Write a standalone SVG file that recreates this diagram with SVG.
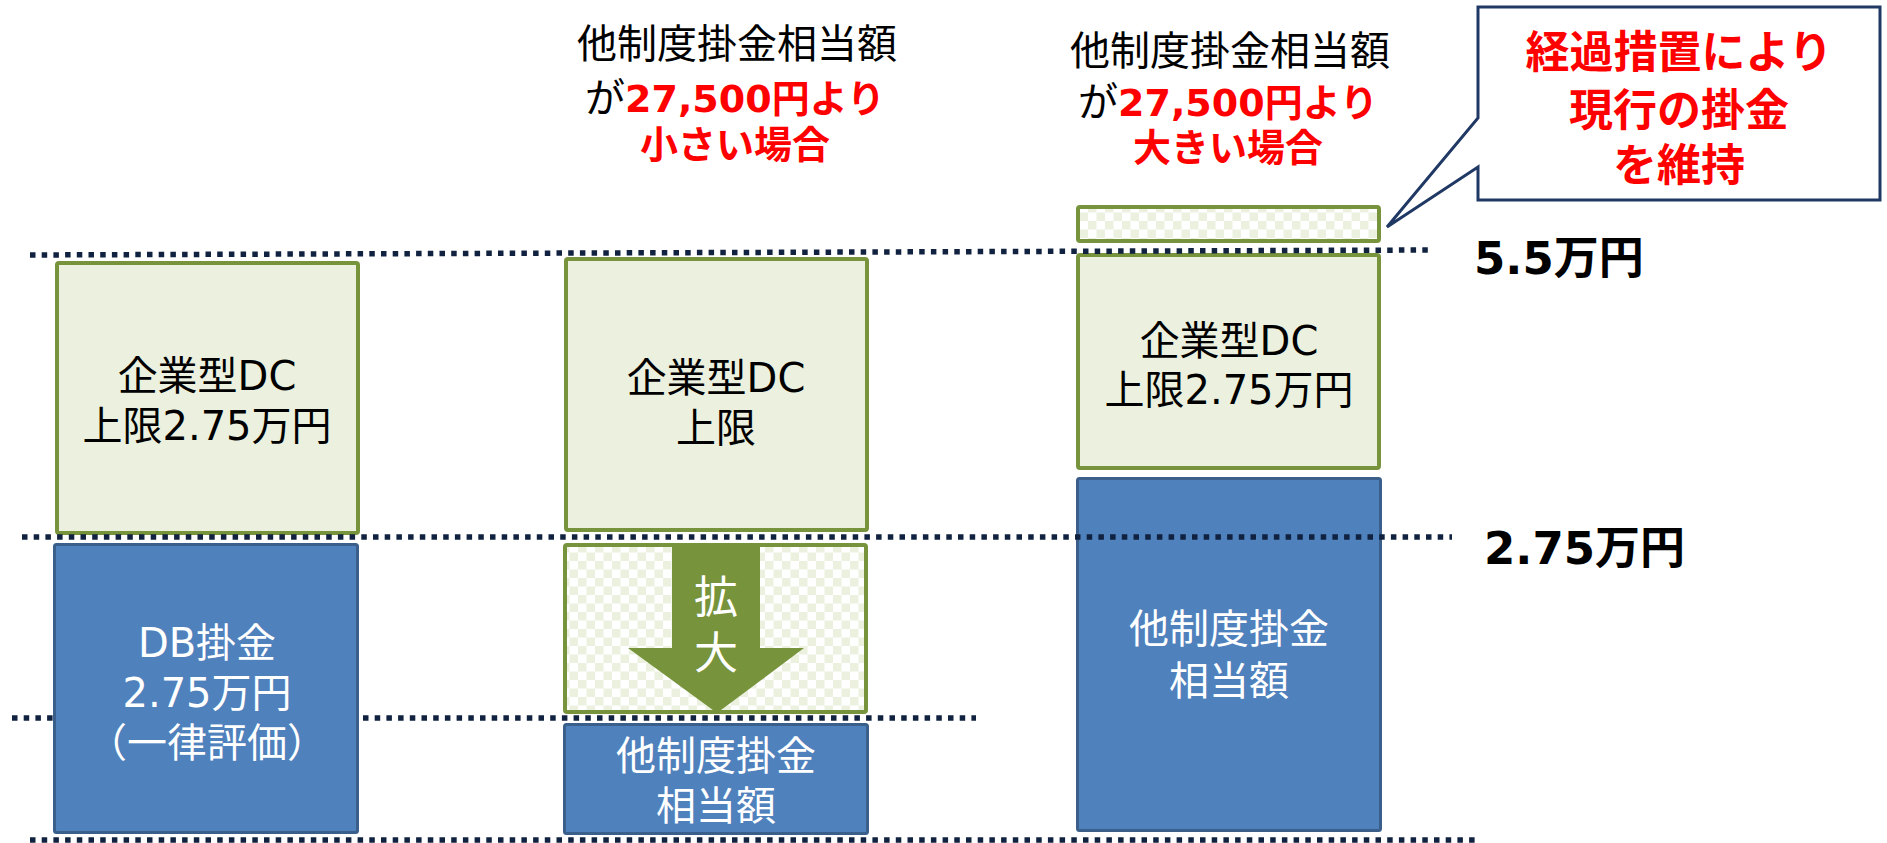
<svg xmlns="http://www.w3.org/2000/svg" width="1887" height="843" viewBox="0 0 1887 843">
<defs>
<pattern id="chk" width="17" height="17" patternUnits="userSpaceOnUse">
<rect width="17" height="17" fill="#ffffff"/>
<rect width="8.5" height="8.5" fill="#EBF1DE"/>
<rect x="8.5" y="8.5" width="8.5" height="8.5" fill="#EBF1DE"/>
</pattern>
<style>
.dc{fill:#EBF1DE;stroke:#77933C;stroke-width:4}
.ck{fill:url(#chk);stroke:#77933C;stroke-width:4}
.db{fill:#4F81BD;stroke:#3A5F8B;stroke-width:3}
.dot{stroke:#10223F;stroke-width:5.5;stroke-dasharray:5.5 6.2;fill:none}
text{font-family:"DejaVu Sans","Noto Sans CJK JP",sans-serif;text-anchor:middle}
.bk{font-size:40px;fill:#000}
.wt{font-size:40px;fill:#fff}
.rd{font-weight:bold;fill:#FF0000}
.lbl{font-size:45px;font-weight:bold;fill:#000;text-anchor:start}
</style>
</defs>
<rect width="1887" height="843" fill="#ffffff"/>

<g id="connectors">
<line class="dot" x1="12" y1="718" x2="976" y2="718"/>
</g>

<g id="left-db">
<rect class="db" x="54.5" y="544.5" width="303" height="288" rx="2"/>
<text class="wt" x="207" y="657">DB掛金</text>
<text class="wt" x="207" y="707">2.75万円</text>
<text class="wt" x="207" y="757">（一律評価）</text>
</g>
<g id="left-dc">
<rect class="dc" x="57" y="263" width="301" height="270" rx="2"/>
<text class="bk" x="207" y="390">企業型DC</text>
<text class="bk" x="207" y="440">上限2.75万円</text>
</g>

<g id="mid-dc">
<rect class="dc" x="566" y="259" width="301" height="271" rx="2"/>
<text class="bk" x="716" y="392">企業型DC</text>
<text class="bk" x="716" y="442">上限</text>
</g>
<g id="mid-expand">
<rect class="ck" x="565" y="545" width="301" height="167" rx="2"/>
<polygon points="672,547 760,547 760,648 804,648 717,713 628,648 672,648" fill="#77933C"/>
<text x="716" y="613" style="font-size:44px;fill:#fff">拡</text>
<text x="716" y="669" style="font-size:44px;fill:#fff">大</text>
</g>
<g id="mid-other">
<rect class="db" x="564.5" y="724.5" width="303" height="109" rx="2"/>
<text class="wt" x="716" y="770">他制度掛金</text>
<text class="wt" x="716" y="820">相当額</text>
</g>

<g id="right-extra">
<rect class="ck" x="1078" y="207" width="301" height="34" rx="2"/>
</g>
<g id="right-dc">
<rect class="dc" x="1078" y="255" width="301" height="213" rx="2"/>
<text class="bk" x="1229" y="355">企業型DC</text>
<text class="bk" x="1229" y="404">上限2.75万円</text>
</g>
<g id="right-other">
<rect class="db" x="1077.5" y="478.5" width="303" height="352" rx="2"/>
<text class="wt" x="1229" y="643">他制度掛金</text>
<text class="wt" x="1229" y="695">相当額</text>
</g>

<g id="levels">
<line class="dot" x1="30" y1="255" x2="1432" y2="250"/>
<line class="dot" x1="22" y1="537" x2="1452" y2="537"/>
<line class="dot" x1="30" y1="840" x2="1477" y2="840"/>
</g>

<g id="header-small">
<text class="bk" x="737" y="58">他制度掛金相当額</text>
<text x="735" y="112" style="font-size:40px"><tspan fill="#000">が</tspan><tspan class="rd" style="font-size:38px">27,500円より</tspan></text>
<text class="rd" x="735" y="158" style="font-size:38px">小さい場合</text>
</g>
<g id="header-large">
<text class="bk" x="1230" y="65">他制度掛金相当額</text>
<text x="1228" y="116" style="font-size:40px"><tspan fill="#000">が</tspan><tspan class="rd" style="font-size:38px">27,500円より</tspan></text>
<text class="rd" x="1228" y="161" style="font-size:38px">大きい場合</text>
</g>

<g id="callout">
<path d="M1478,7 H1880 V200 H1478 V167 L1387,227 L1478,118 Z" fill="#ffffff" stroke="#1F3864" stroke-width="3" stroke-linejoin="miter"/>
<text class="rd" x="1679" y="68" style="font-size:44px">経過措置により</text>
<text class="rd" x="1679" y="126" style="font-size:44px">現行の掛金</text>
<text class="rd" x="1679" y="181" style="font-size:44px">を維持</text>
</g>

<g id="label-55">
<text class="lbl" x="1474" y="274">5.5万円</text>
</g>
<g id="label-275">
<text class="lbl" x="1484" y="564">2.75万円</text>
</g>
</svg>
